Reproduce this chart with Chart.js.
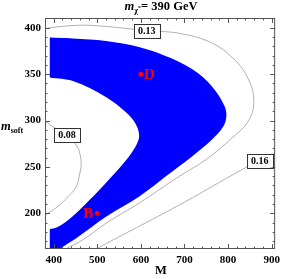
<!DOCTYPE html>
<html>
<head>
<meta charset="utf-8">
<script src="https://cdn.jsdelivr.net/npm/chart.js@4.4.0/dist/chart.umd.min.js"></script>
<style>
  body { margin: 0; background: #fff; overflow: hidden; }
  #wrap { position: relative; width: 285px; height: 279px; }
  .lbl { position: absolute; font-family: "Liberation Serif", "Times New Roman", serif; font-weight: bold; color: #000; white-space: nowrap; }
  #title { left: 0; width: 322px; top: -1px; text-align: center; font-size: 12.5px; line-height: 14px; }
  #xlab { left: 0; width: 322px; top: 263px; text-align: center; font-size: 12.5px; }
  #ylab { left: 1px; top: 119px; font-size: 12.5px; }
  .sub { font-size: 8px; position: relative; top: 3px; }
</style>
</head>
<body>
<div id="wrap">
  <canvas id="chart"></canvas>
  <div id="title" class="lbl"><i>m</i><span class="sub">χ̃</span> = 390 GeV</div>
  <div id="xlab" class="lbl">M</div>
  <div id="ylab" class="lbl"><i>m</i><span class="sub">soft</span></div>
</div>
<script>
// axis ticks
const xTicks = [400, 500, 600, 700, 800, 900];
const yTicks = [200, 250, 300, 350, 400];

// blue allowed band (closed outline, clockwise from top-left)
const bandM = [391, 391, 444, 520, 595.5, 671, 732, 770, 792.5, 796, 788.6, 762, 716.6, 656, 595.5, 520, 451.6, 413.6, 395, 391, 391, 391, 391,
  406.8, 427.3, 459.1, 504.5, 556.8, 580, 592, 596, 593, 583, 565.9, 520.5, 445.5, 391, 391, 391];
const bandSoft = [389.4, 389.4, 388.4, 385.8, 379.3, 366.8, 350.7, 332.7, 314.7, 304, 293.2, 278.9, 261, 239.4, 217.9, 196.3, 173.1, 161.6, 155, 150, 150, 183.1, 183.1,
  184.7, 190.6, 203.6, 225.1, 252, 266, 276, 283, 291, 300, 309, 325.2, 342.4, 346.4, 346.4, 389.4];

// contour lines
const c008M = [375, 379.5, 398.4, 430, 451.6, 459, 463, 459, 451.6, 431.8, 413.6, 387, 375];
const c008Soft = [300.5, 299.4, 293.2, 284.3, 273.5, 266, 253.8, 241.2, 228.6, 217.5, 208.9, 200, 196.5];
const c013M = [375, 379.5, 420, 474.3, 540, 613.6, 686.4, 759.1, 811.4, 845.5, 859.1, 847.7, 811.4, 747.7, 686.4, 595.5, 519.7, 466.6, 427.3, 410];
const c013Soft = [398.5, 399.1, 401.5, 402.7, 400.5, 396.8, 394.1, 384.4, 367.2, 345.6, 322, 300.4, 282.1, 257.4, 239.4, 210.8, 189.2, 171.3, 161.6, 157];
const c016M = [490, 497.7, 527, 600, 700, 830, 872.7, 915];
const c016Soft = [159.6, 161.6, 169, 187, 212, 246.6, 256.8, 267];

// contour labels
const contourText = ['0.08', '0.13', '0.16'];
const contourM = [430.2, 613.6, 872.7];
const contourSoft = [284.3, 396.8, 256.8];

// benchmark points
const benchNames = ['B', 'D'];
const benchM = [500, 600];
const benchSoft = [200, 350];

const toPts = (xs, ys) => xs.map((v, i) => ({x: v, y: ys[i]}));
const serif = '"Liberation Serif", "Times New Roman", serif';

const lineSet = (xs, ys) => ({
  data: toPts(xs, ys),
  showLine: true,
  borderColor: '#a8a8a8',
  borderWidth: 0.9,
  pointRadius: 0,
  tension: 0.4,
  fill: false,
  order: 3
});

const frameTicks = {
  id: 'frameTicks',
  afterDatasetsDraw(chart) {
    const {ctx, chartArea: a, scales: {x, y}} = chart;
    ctx.save();
    ctx.strokeStyle = '#555';
    ctx.lineWidth = 1;
    ctx.beginPath();
    for (let v = 380; v <= 908; v += 20) {
      const px = Math.round(x.getPixelForValue(v)) + 0.5;
      const len = v % 100 === 0 ? 5 : 2.5;
      ctx.moveTo(px, a.bottom); ctx.lineTo(px, a.bottom - len);
      ctx.moveTo(px, a.top); ctx.lineTo(px, a.top + len);
    }
    for (let v = 170; v <= 410; v += 10) {
      const py = Math.round(y.getPixelForValue(v)) + 0.5;
      const len = v % 50 === 0 ? 5 : 2.5;
      ctx.moveTo(a.left, py); ctx.lineTo(a.left + len, py);
      ctx.moveTo(a.right, py); ctx.lineTo(a.right - len, py);
    }
    ctx.stroke();
    ctx.strokeRect(a.left + 0.5, a.top + 0.5, a.right - a.left - 1, a.bottom - a.top - 1);

    // contour value boxes
    ctx.font = 'bold 10px ' + serif;
    ctx.textAlign = 'center';
    ctx.textBaseline = 'middle';
    contourText.forEach((t, i) => {
      const cx = x.getPixelForValue(contourM[i]);
      const cy = y.getPixelForValue(contourSoft[i]);
      const w = ctx.measureText(t).width + 8;
      const h = 14;
      ctx.fillStyle = '#fff';
      ctx.fillRect(cx - w / 2, cy - h / 2, w, h);
      ctx.strokeStyle = '#333';
      ctx.strokeRect(Math.round(cx - w / 2) + 0.5, Math.round(cy - h / 2) + 0.5, Math.round(w), h);
      ctx.fillStyle = '#000';
      ctx.fillText(t, cx, cy + 0.5);
    });

    // benchmark names
    ctx.font = 'bold 15px ' + serif;
    ctx.fillStyle = '#f00';
    ctx.textBaseline = 'alphabetic';
    const meta = chart.getDatasetMeta(4);
    meta.data.forEach((p, i) => {
      if (i === 0) {
        ctx.textAlign = 'right';
        ctx.fillText(benchNames[i], p.x - 4, p.y + 5);
      } else {
        ctx.textAlign = 'left';
        ctx.fillText(benchNames[i], p.x + 3, p.y + 5);
      }
    });
    ctx.restore();
  }
};

new Chart(document.getElementById('chart'), {
  type: 'scatter',
  data: {
    datasets: [
      {
        data: toPts(bandM, bandSoft),
        showLine: true,
        fill: 'shape',
        backgroundColor: '#0000ff',
        borderColor: 'rgba(0,0,0,0)',
        borderWidth: 1,
        pointRadius: 0,
        tension: 0.35,
        order: 2
      },
      lineSet(c008M, c008Soft),
      lineSet(c013M, c013Soft),
      lineSet(c016M, c016Soft),
      {
        data: toPts(benchM, benchSoft),
        pointRadius: 2.5,
        pointBackgroundColor: '#f00',
        pointBorderWidth: 0,
        order: 1
      }
    ]
  },
  options: {
    responsive: true,
    maintainAspectRatio: false,
    animation: false,
    devicePixelRatio: 1,
    layout: { padding: { top: 18, right: 7, left: 0, bottom: 0 } },
    plugins: { legend: { display: false }, tooltip: { enabled: false } },
    scales: {
      x: {
        type: 'linear',
        min: 380,
        max: 908,
        grid: { display: false, drawTicks: false },
        border: { display: false },
        afterBuildTicks: s => { s.ticks = xTicks.map(v => ({value: v})); },
        afterFit: s => { s.height = 30; },
        ticks: { padding: 5, color: '#000', maxRotation: 0, font: { family: serif, weight: 'bold', size: 11 } }
      },
      y: {
        type: 'linear',
        min: 161.5,
        max: 410.5,
        grid: { display: false, drawTicks: false },
        border: { display: false },
        afterBuildTicks: s => { s.ticks = yTicks.map(v => ({value: v})); },
        afterFit: s => { s.width = 45; },
        ticks: { padding: 4, color: '#000', font: { family: serif, weight: 'bold', size: 11 } }
      }
    }
  },
  plugins: [frameTicks]
});
</script>
</body>
</html>
